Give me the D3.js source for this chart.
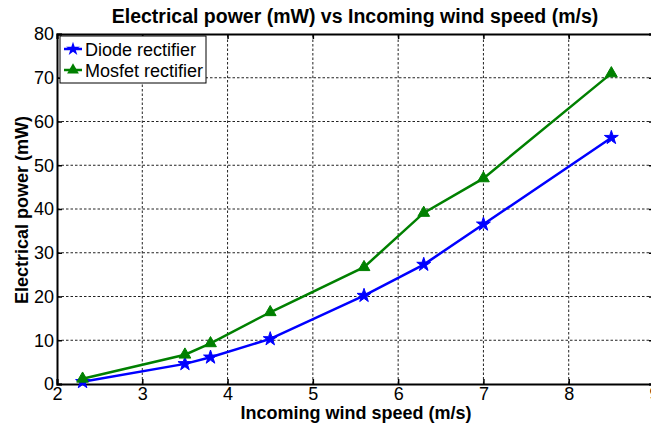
<!DOCTYPE html>
<html>
<head>
<meta charset="utf-8">
<script src="https://cdn.jsdelivr.net/npm/d3@7"></script>
<style>
  body { margin: 0; background: #fff; }
  svg { display: block; font-family: "Liberation Sans", Arial, sans-serif; }
</style>
</head>
<body>
<svg id="chart" width="651" height="427"></svg>
<script>
// wind speed (m/s) and measured power (mW)
const windSpeed = [2.3, 3.5, 3.8, 4.5, 5.6, 6.3, 7.0, 8.5]
const diodePower = [0.5, 4.6, 6.1, 10.3, 20.2, 27.3, 36.5, 56.3]
const mosfetPower = [1.2, 6.7, 9.3, 16.4, 26.7, 39.1, 47.0, 71.0]
const xTicks = [2, 3, 4, 5, 6, 7, 8, 9]
const yTicks = [0, 10, 20, 30, 40, 50, 60, 70, 80]
const seriesNames = ["Diode rectifier", "Mosfet rectifier"]

const blue = "#0000ff", green = "#008000"
const margin = {left: 57, right: -3, top: 34, bottom: 43}
const W = 651, H = 427

const svg = d3.select("#chart")

const x = d3.scaleLinear().domain([2, 9]).range([margin.left, W - margin.right])
const y = d3.scaleLinear().domain([0, 80]).range([H - margin.bottom, margin.top])

// dotted grid
const grid = svg.append("g").attr("stroke", "#222").attr("stroke-width", 1)
  .attr("stroke-dasharray", "2.5,2")
grid.selectAll("line.gx").data(xTicks.slice(1, -1)).enter().append("line")
  .attr("x1", d => x(d)).attr("x2", d => x(d))
  .attr("y1", y(0)).attr("y2", y(80))
grid.selectAll("line.gy").data(yTicks.slice(1, -1)).enter().append("line")
  .attr("class", "gy")
  .attr("x1", x(2)).attr("x2", x(9))
  .attr("y1", d => y(d)).attr("y2", d => y(d))

// axes (matlab style: ticks inside, box all round)
const xAxis = d3.axisBottom(x).tickValues(xTicks).tickSize(-5).tickPadding(3).tickFormat(d3.format("d"))
const yAxis = d3.axisLeft(y).tickValues(yTicks).tickSize(-5).tickPadding(3).tickFormat(d3.format("d"))

svg.append("g").attr("transform", `translate(0,${y(0)})`).call(xAxis)
svg.append("g").attr("transform", `translate(${x(2)},0)`).call(yAxis)
svg.append("g").attr("transform", `translate(0,${y(80)})`)
  .call(d3.axisTop(x).tickValues(xTicks).tickSize(-5).tickFormat(""))
svg.append("g").attr("transform", `translate(${x(9)},0)`)
  .call(d3.axisRight(y).tickValues(yTicks).tickSize(-5).tickFormat(""))

svg.selectAll(".domain").attr("stroke", "#000").attr("stroke-width", 2)
svg.selectAll(".tick line").attr("stroke", "#000").attr("stroke-width", 1.5)
svg.selectAll(".tick text").attr("fill", "#000").style("font-size", "18px")
  .style("font-family", "'Liberation Sans', Arial, sans-serif")

// lines
const line = d3.line().x((d, i) => x(windSpeed[i])).y(d => y(d))
const series = [
  {name: seriesNames[0], values: diodePower, color: blue, symbol: d3.symbolStar, size: 60},
  {name: seriesNames[1], values: mosfetPower, color: green, symbol: d3.symbolTriangle, size: 60}
]

series.forEach(s => {
  svg.append("path")
    .attr("d", line(s.values))
    .attr("fill", "none")
    .attr("stroke", s.color)
    .attr("stroke-width", 2.5)
  svg.selectAll(null).data(s.values).enter().append("path")
    .attr("d", d3.symbol().type(s.symbol).size(s.size))
    .attr("transform", (d, i) => `translate(${x(windSpeed[i])},${y(d)})`)
    .attr("fill", s.color)
    .attr("stroke", s.color)
    .attr("stroke-width", 1)
})

// legend
const lg = svg.append("g").attr("transform", "translate(60,36)")
lg.append("rect").attr("width", 146).attr("height", 47)
  .attr("fill", "#fff").attr("stroke", "#000").attr("stroke-width", 1)
series.forEach((s, i) => {
  const cy = 13 + i * 21
  lg.append("line").attr("x1", 4).attr("x2", 22).attr("y1", cy).attr("y2", cy)
    .attr("stroke", s.color).attr("stroke-width", 2.5)
  lg.append("path").attr("d", d3.symbol().type(s.symbol).size(s.size))
    .attr("transform", `translate(13,${cy})`).attr("fill", s.color)
  lg.append("text").attr("x", 25).attr("y", cy + 6.5)
    .style("font-size", "18px")
    .text(s.name)
})

// titles
svg.append("text").attr("x", 355).attr("y", 23).attr("text-anchor", "middle")
  .style("font-size", "19.5px").style("font-weight", "bold")
  .text("Electrical power (mW) vs Incoming wind speed (m/s)")
svg.append("text").attr("x", 356).attr("y", 419).attr("text-anchor", "middle")
  .style("font-size", "18px").style("font-weight", "bold")
  .text("Incoming wind speed (m/s)")
svg.append("text").attr("transform", "translate(28,210) rotate(-90)")
  .attr("text-anchor", "middle")
  .style("font-size", "18px").style("font-weight", "bold")
  .text("Electrical power (mW)")
</script>
</body>
</html>
